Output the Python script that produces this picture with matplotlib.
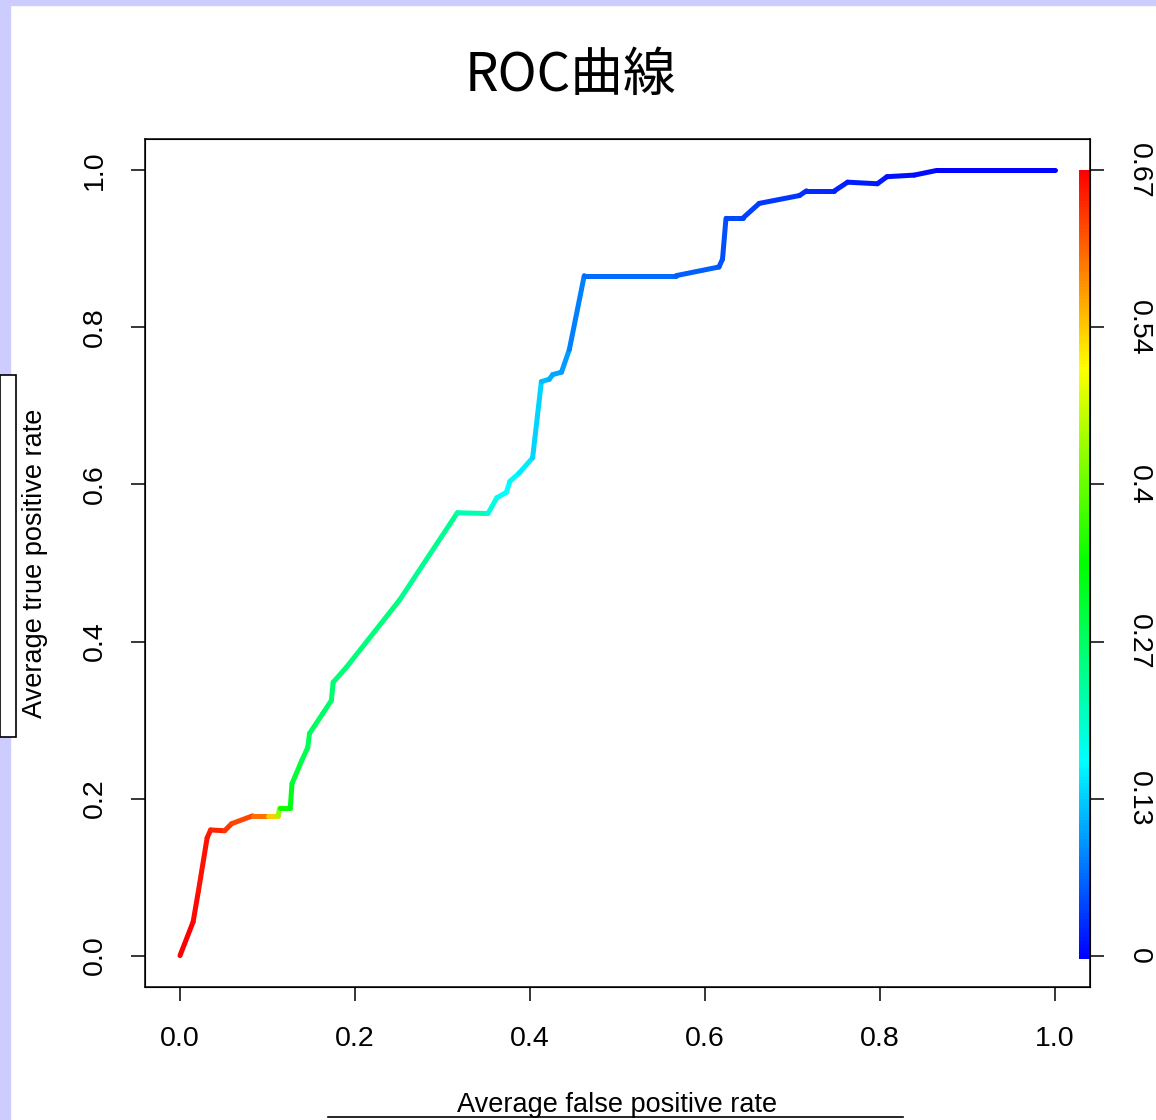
import numpy as np
import matplotlib
matplotlib.use('Agg')
import matplotlib.pyplot as plt
from matplotlib.collections import LineCollection
from matplotlib.colors import ListedColormap, hsv_to_rgb
from matplotlib.patches import Rectangle
from matplotlib.lines import Line2D

# ROC curve
fpr = [0.000, 0.015, 0.021, 0.031, 0.035, 0.051, 0.059, 0.083, 0.100, 0.112,
       0.114, 0.126, 0.128, 0.139, 0.146, 0.148, 0.163, 0.173, 0.175, 0.190,
       0.251, 0.317, 0.352, 0.362, 0.373, 0.377, 0.388, 0.403, 0.413, 0.422,
       0.426, 0.436, 0.445, 0.462, 0.567, 0.616, 0.620, 0.624, 0.643, 0.662,
       0.708, 0.716, 0.731, 0.748, 0.763, 0.797, 0.808, 0.839, 0.865, 1.000]
tpr = [0.000, 0.043, 0.082, 0.150, 0.160, 0.159, 0.168, 0.178, 0.178, 0.178,
       0.188, 0.188, 0.219, 0.248, 0.265, 0.283, 0.308, 0.325, 0.348, 0.367,
       0.453, 0.564, 0.563, 0.583, 0.590, 0.604, 0.615, 0.634, 0.731, 0.734,
       0.740, 0.743, 0.772, 0.866, 0.866, 0.877, 0.887, 0.939, 0.939, 0.958,
       0.968, 0.974, 0.974, 0.974, 0.985, 0.983, 0.992, 0.994, 1.000, 1.000]
cutoff = [0.670, 0.665, 0.660, 0.655, 0.650, 0.640, 0.630, 0.620, 0.570, 0.500,
          0.360, 0.330, 0.310, 0.290, 0.280, 0.275, 0.270, 0.265, 0.260, 0.260,
          0.250, 0.235, 0.200, 0.180, 0.170, 0.165, 0.160, 0.150, 0.130, 0.120,
          0.115, 0.110, 0.095, 0.075, 0.070, 0.060, 0.055, 0.050, 0.045, 0.040,
          0.035, 0.030, 0.028, 0.025, 0.020, 0.018, 0.015, 0.010, 0.008, 0.000]

axis_ticks = [0.0, 0.2, 0.4, 0.6, 0.8, 1.0]
axis_labels = ['0.0', '0.2', '0.4', '0.6', '0.8', '1.0']
cutoff_labels = ['0', '0.13', '0.27', '0.4', '0.54', '0.67']
cutoff_max = 0.67

plt.rcParams['font.family'] = ['Liberation Sans', 'DejaVu Sans']

# R rainbow(): blue for low cutoffs, red for high ones
hues = np.linspace(2 / 3, 0, 256)
rainbow = ListedColormap(hsv_to_rgb(np.column_stack([hues, np.ones(256), np.ones(256)])))

fig = plt.figure(figsize=(11.56, 11.2), dpi=100)

# screenshot frame (behind everything)
fig.patches.append(Rectangle((0, 0), 10 / 1156, 1, transform=fig.transFigure,
                             color='#ccccff', zorder=-3))
fig.patches.append(Rectangle((0, 1 - 5 / 1120), 1, 5 / 1120, transform=fig.transFigure,
                             color='#ccccff', zorder=-3))
fig.patches.append(Rectangle((0, 1 - 737 / 1120), 16 / 1156, 362 / 1120,
                             transform=fig.transFigure, facecolor='white',
                             edgecolor='black', lw=1.2, zorder=-2))
fig.lines.append(Line2D([328 / 1156, 903 / 1156], [1 - 1117 / 1120] * 2,
                        transform=fig.transFigure, color='black', lw=1.2, zorder=-2))

ax = fig.add_axes([145 / 1156, 1 - 987 / 1120, 945 / 1156, 848 / 1120])

pts = np.column_stack([fpr, tpr])
segs = np.stack([pts[:-1], pts[1:]], axis=1)
c = np.asarray(cutoff)
lc = LineCollection(segs, cmap=rainbow, norm=plt.Normalize(0, cutoff_max),
                    linewidths=3.6, capstyle='round', joinstyle='round')
lc.set_array((c[:-1] + c[1:]) / 2)
ax.add_collection(lc)

# colour key along the right edge of the plot
bar = np.linspace(0, cutoff_max, 256).reshape(-1, 1)
ax.imshow(bar, cmap=rainbow, origin='lower', aspect='auto',
          extent=(1.027, 1.04, -0.004, 1.0), zorder=1)

ax.set_xlim(-0.04, 1.04)
ax.set_ylim(-0.04, 1.04)
ax.set_xticks(axis_ticks, axis_labels)
ax.set_yticks(axis_ticks, axis_labels)
ax.tick_params(length=10, width=1.1, labelsize=20.5, pad=18)
ax.tick_params(axis='y', pad=17)
plt.setp(ax.get_yticklabels(), rotation=90, va='center')
for s in ax.spines.values():
    s.set_linewidth(1.1)

ax2 = ax.twinx()
ax2.set_ylim(-0.04, 1.04)
ax2.set_yticks(axis_ticks, cutoff_labels)
ax2.tick_params(length=10, width=1.1, labelsize=20.5, pad=16)
plt.setp(ax2.get_yticklabels(), rotation=-90, va='center')

ax.set_xlabel('Average false positive rate', fontsize=19.5)
ax.set_ylabel('Average true positive rate', fontsize=19.5)
ax.xaxis.set_label_coords(0.5, -0.124)
ax.yaxis.set_label_coords(-0.103, 0.5)

fig.text(570 / 1156, 1 - 75 / 1120, 'ROC曲線', fontsize=38, ha='center', va='center',
         family=['Noto Sans CJK JP', 'DejaVu Sans'])

fig.savefig('out.png', dpi=100)
